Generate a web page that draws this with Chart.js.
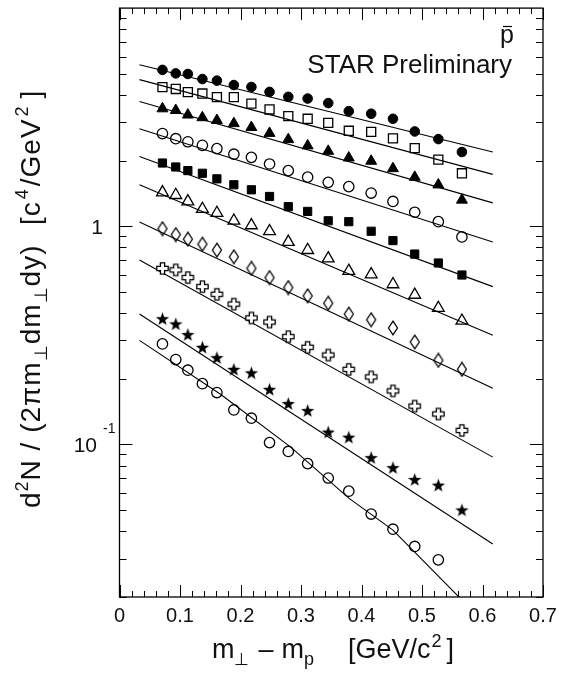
<!DOCTYPE html>
<html>
<head>
<meta charset="utf-8">
<script src="https://cdn.jsdelivr.net/npm/chart.js@4.4.0/dist/chart.umd.min.js"></script>
<style>
  html, body { margin: 0; padding: 0; background: #fff; }
  #c { display: block; }
</style>
</head>
<body>
<canvas id="c" width="561" height="673"></canvas>
<script>
// m_T - m_p bin centres [GeV/c^2]
const mtBins = [0.071, 0.093, 0.113, 0.137, 0.161, 0.189, 0.218, 0.248, 0.279, 0.311, 0.345, 0.379, 0.416, 0.452, 0.488, 0.527, 0.566];

// spectra, top to bottom
const fullCircle   = [5.21, 5.02, 4.99, 4.73, 4.65, 4.44, 4.35, 4.13, 3.92, 3.85, 3.67, 3.37, 3.28, 3.11, 2.72, 2.51, 2.19];
const openSquare   = [4.34, 4.26, 4.12, 4.06, 3.91, 3.91, 3.65, 3.43, 3.20, 3.11, 2.98, 2.74, 2.71, 2.53, 2.28, 2.02, 1.75];
const fullTriangle = [3.46, 3.40, 3.24, 3.15, 3.06, 2.96, 2.84, 2.67, 2.50, 2.34, 2.21, 2.06, 1.99, 1.84, 1.68, 1.55, 1.32];
const openCircle   = [2.66, 2.52, 2.44, 2.35, 2.27, 2.14, 2.07, 1.93, 1.80, 1.68, 1.59, 1.52, 1.42, 1.30, 1.16, 1.05, 0.894];
const fullSquare   = [1.95, 1.87, 1.80, 1.75, 1.65, 1.55, 1.47, 1.37, 1.23, 1.17, 1.06, 1.05, 0.949, 0.860, 0.746, 0.679, 0.598];
const openTriangle = [1.43, 1.39, 1.30, 1.20, 1.15, 1.06, 1.01, 0.949, 0.848, 0.778, 0.712, 0.624, 0.602, 0.542, 0.485, 0.422, 0.369];
const openDiamond  = [0.975, 0.916, 0.873, 0.828, 0.778, 0.725, 0.641, 0.582, 0.524, 0.480, 0.444, 0.396, 0.373, 0.342, 0.295, 0.243, 0.221];
const openCross    = [0.641, 0.631, 0.582, 0.529, 0.488, 0.440, 0.380, 0.364, 0.312, 0.279, 0.257, 0.221, 0.204, 0.176, 0.150, 0.138, 0.116];
const fullStar     = [0.377, 0.357, 0.319, 0.279, 0.250, 0.221, 0.213, 0.179, 0.154, 0.143, 0.114, 0.108, 0.0870, 0.0783, 0.0691, 0.0651, 0.0501];
const openCircle2  = [0.289, 0.245, 0.219, 0.190, 0.173, 0.144, 0.132, 0.102, 0.0929, 0.0817, 0.0702, 0.0611, 0.0480, 0.0409, 0.0341, 0.0296];

// fit curves
const fitX = [0.033, 0.617];
const fitFullCircle   = [5.50, 2.19];
const fitOpenSquare   = [4.70, 1.73];
const fitFullTriangle = [3.73, 1.28];
const fitOpenCircle   = [2.80, 0.848];
const fitFullSquare   = [2.09, 0.529];
const fitOpenTriangle = [1.55, 0.317];
const fitOpenDiamond  = [1.046, 0.181];
const fitOpenCross    = [0.700, 0.0875];
const fitFullStar     = [0.396, 0.0350];
const fitX2           = [0.033, 0.167, 0.283, 0.379, 0.452, 0.565];
const fitOpenCircle2  = [0.300, 0.170, 0.0972, 0.0568, 0.0405, 0.0195];

const xTickValues = [0, 0.1, 0.2, 0.3, 0.4, 0.5, 0.6, 0.7];
const xTickLabels = ['0', '0.1', '0.2', '0.3', '0.4', '0.5', '0.6', '0.7'];

const FONT = '"Liberation Sans", Arial, Helvetica, sans-serif';
const INK = '#111';

function markerCanvas(w, h, draw) {
  const c = document.createElement('canvas');
  c.width = w; c.height = h;
  draw(c.getContext('2d'), w / 2, h / 2);
  return c;
}

const starImg = markerCanvas(15, 15, (g, mx, my) => {
  g.beginPath();
  for (let i = 0; i < 10; i++) {
    const r = i % 2 ? 2.8 : 7;
    const a = -Math.PI / 2 + i * Math.PI / 5;
    g.lineTo(mx + r * Math.cos(a), my + 0.6 + r * Math.sin(a));
  }
  g.closePath();
  g.fillStyle = '#000';
  g.fill();
});

const crossImg = markerCanvas(15, 15, (g, m) => {
  const a = 5.7, b = 2.1;
  g.beginPath();
  g.moveTo(m - b, m - a); g.lineTo(m + b, m - a); g.lineTo(m + b, m - b);
  g.lineTo(m + a, m - b); g.lineTo(m + a, m + b); g.lineTo(m + b, m + b);
  g.lineTo(m + b, m + a); g.lineTo(m - b, m + a); g.lineTo(m - b, m + b);
  g.lineTo(m - a, m + b); g.lineTo(m - a, m - b); g.lineTo(m - b, m - b);
  g.closePath();
  g.fillStyle = '#fff';
  g.fill();
  g.lineWidth = 1.3;
  g.strokeStyle = '#000';
  g.stroke();
});

const diamondImg = markerCanvas(12, 16, (g, mx, my) => {
  g.beginPath();
  g.moveTo(mx, 1.2); g.lineTo(mx + 4.5, my); g.lineTo(mx, 14.8); g.lineTo(mx - 4.5, my);
  g.closePath();
  g.lineWidth = 1.3;
  g.strokeStyle = '#000';
  g.stroke();
});

function pts(xs, ys) {
  return ys.map((y, i) => ({ x: xs[i], y }));
}

function points(ys, style, radius, filled) {
  return {
    data: pts(mtBins, ys),
    showLine: false,
    pointStyle: style,
    pointRadius: radius,
    pointBackgroundColor: filled ? '#000' : 'rgba(0,0,0,0)',
    pointBorderColor: '#000',
    pointBorderWidth: filled ? 1 : 1.3,
    order: 0
  };
}

function fit(xs, ys) {
  return {
    data: pts(xs, ys),
    showLine: true,
    borderColor: '#000',
    borderWidth: 1.1,
    pointRadius: 0,
    fill: false,
    order: 1
  };
}

// parts: [text, size, dy] | number (gap) | {at: offset}
function richText(ctx, parts, x, y) {
  let cx = x;
  ctx.textAlign = 'left';
  ctx.textBaseline = 'alphabetic';
  parts.forEach(p => {
    if (typeof p === 'number') { cx += p; return; }
    if (!Array.isArray(p)) { cx = x + p.at; return; }
    const [t, size, dy] = p;
    ctx.font = size + 'px ' + FONT;
    ctx.fillText(t, cx, y + (dy || 0));
    cx += ctx.measureText(t).width;
  });
}

const frame = {
  id: 'frame',
  afterDatasetsDraw(chart) {
    const { ctx, chartArea: a, scales: { x, y } } = chart;
    ctx.save();
    ctx.strokeStyle = '#000';
    ctx.lineWidth = 1.3;
    ctx.strokeRect(a.left, a.top, a.right - a.left, a.bottom - a.top);

    // ticks, inside on all four sides
    ctx.lineWidth = 1;
    ctx.beginPath();
    for (let i = 0; i <= 35; i++) {
      const px = Math.round(x.getPixelForValue(i * 0.02)) + 0.5;
      const len = i % 5 === 0 ? 12 : 6;
      ctx.moveTo(px, a.bottom); ctx.lineTo(px, a.bottom - len);
      ctx.moveTo(px, a.top); ctx.lineTo(px, a.top + len);
    }
    [0.01, 0.1, 1].forEach(d => {
      for (let k = 1; k <= 9; k++) {
        const v = k * d;
        if (v < y.min || v > y.max) continue;
        const py = Math.round(y.getPixelForValue(v)) + 0.5;
        const len = k === 1 ? 13 : 7;
        ctx.moveTo(a.left, py); ctx.lineTo(a.left + len, py);
        ctx.moveTo(a.right, py); ctx.lineTo(a.right - len, py);
      }
    });
    ctx.stroke();

    ctx.fillStyle = INK;
    // x tick labels
    ctx.font = '20px ' + FONT;
    ctx.textAlign = 'center';
    ctx.textBaseline = 'alphabetic';
    xTickValues.forEach((v, i) => {
      ctx.fillText(xTickLabels[i], x.getPixelForValue(v), 622);
    });

    // y tick labels
    const y1 = y.getPixelForValue(1);
    const y01 = y.getPixelForValue(0.1);
    ctx.font = '21px ' + FONT;
    ctx.textAlign = 'right';
    ctx.fillText('1', 103, y1 + 8);
    ctx.fillText('10', 97, y01 + 8);
    ctx.font = '14px ' + FONT;
    ctx.textAlign = 'left';
    ctx.fillText('-1', 103, y01 - 11);

    // axis titles
    richText(ctx, [['m', 27], ['\u22A5', 17, 7], 9, ['\u2013', 27], 8, ['m', 27], ['p', 18, 7],
      { at: 136 }, ['[GeV/c', 27], 1, ['2', 18, -11], 5, [']', 27]], 212, 658);

    ctx.save();
    ctx.translate(40, 508);
    ctx.rotate(-Math.PI / 2);
    ctx.letterSpacing = '1px';
    richText(ctx, [['d', 28], ['2', 18, -12], ['N / (2\u03C0m', 28], ['\u22A5', 18, 7], ['dm', 28], ['\u22A5', 18, 7],
      ['dy)', 28], { at: 283 }, ['[c', 28], 2, ['4', 18, -12], 2, ['/GeV', 28], 2, ['2', 18, -12], 7, [']', 28]], 0, 0);
    ctx.restore();

    // annotations
    ctx.font = '26px ' + FONT;
    ctx.textAlign = 'right';
    ctx.fillText('STAR Preliminary', 512, 73);
    ctx.font = '25px ' + FONT;
    ctx.fillText('p', 514, 43);
    ctx.beginPath();
    ctx.lineWidth = 1.2;
    ctx.moveTo(503, 26.5); ctx.lineTo(512, 26.5);
    ctx.stroke();
    ctx.restore();
  }
};

new Chart(document.getElementById('c'), {
  type: 'scatter',
  data: {
    datasets: [
      fit(fitX, fitFullCircle),
      fit(fitX, fitOpenSquare),
      fit(fitX, fitFullTriangle),
      fit(fitX, fitOpenCircle),
      fit(fitX, fitFullSquare),
      fit(fitX, fitOpenTriangle),
      fit(fitX, fitOpenDiamond),
      fit(fitX, fitOpenCross),
      fit(fitX, fitFullStar),
      fit(fitX2, fitOpenCircle2),
      points(fullCircle, 'circle', 4.8, true),
      points(openSquare, 'rect', 6.4, false),
      points(fullTriangle, 'triangle', 6.3, true),
      points(openCircle, 'circle', 5.2, false),
      points(fullSquare, 'rect', 5.8, true),
      points(openTriangle, 'triangle', 6.8, false),
      points(openDiamond, diamondImg, 6, false),
      points(openCross, crossImg, 6, false),
      points(fullStar, starImg, 6, true),
      points(openCircle2, 'circle', 5.2, false)
    ]
  },
  options: {
    responsive: false,
    animation: false,
    layout: { padding: { top: 5, right: 18, left: 0, bottom: 0 } },
    plugins: { legend: { display: false }, tooltip: { enabled: false } },
    scales: {
      x: {
        type: 'linear', min: 0, max: 0.7,
        grid: { display: false }, border: { display: false },
        ticks: { display: false },
        afterFit: s => { s.height = 76; }
      },
      y: {
        type: 'logarithmic', min: 0.02, max: 10,
        grid: { display: false }, border: { display: false },
        ticks: { display: false },
        afterFit: s => { s.width = 119.5; }
      }
    }
  },
  plugins: [frame]
});
</script>
</body>
</html>
